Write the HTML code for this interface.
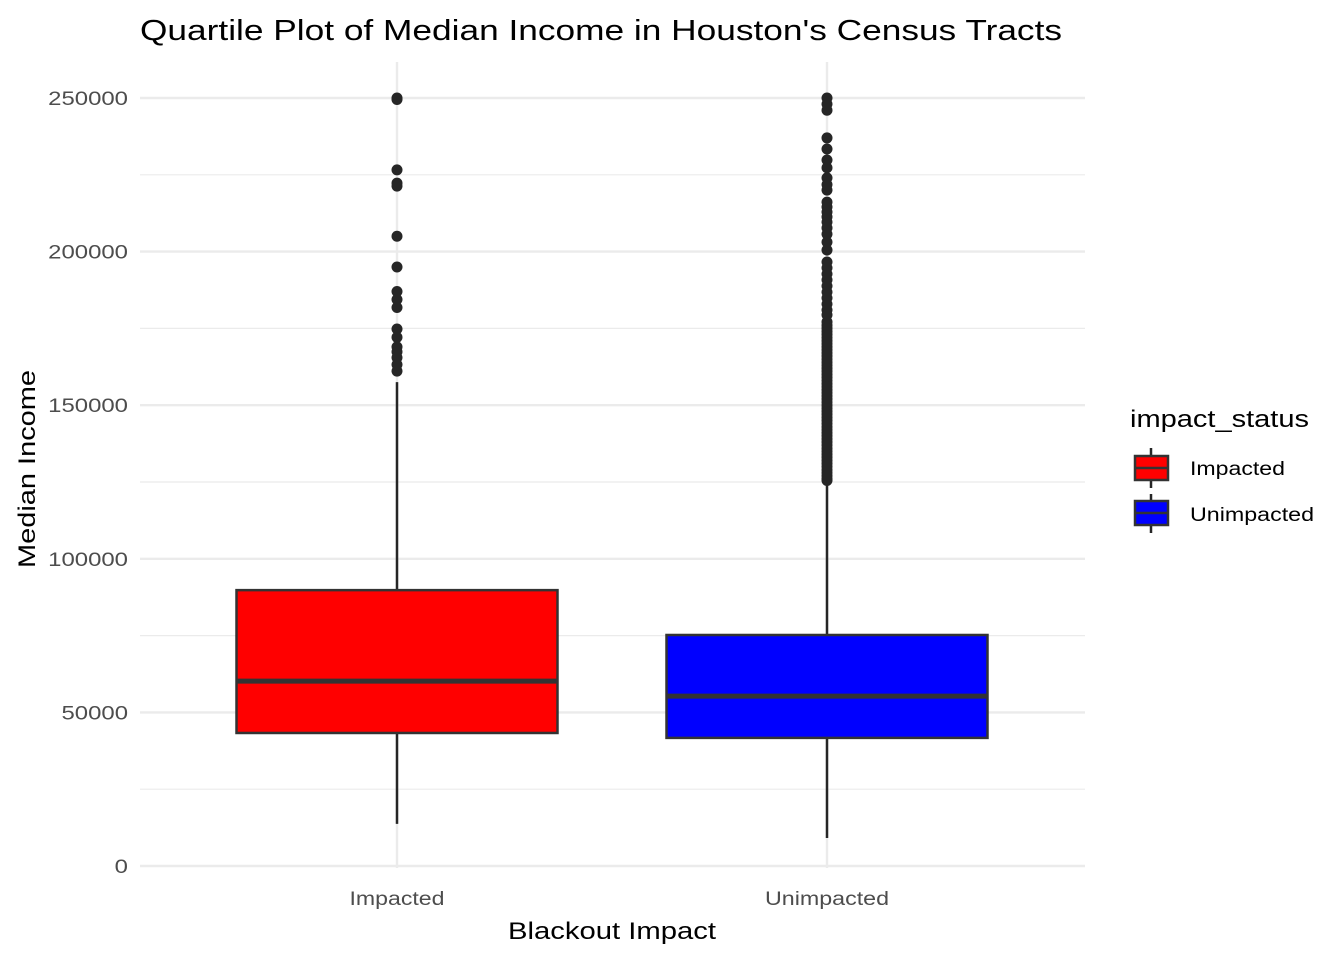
<!DOCTYPE html>
<html><head><meta charset="utf-8"><style>
body{margin:0;background:#fff;}
svg text{font-family:"Liberation Sans",Arial,sans-serif;}
</style></head><body>
<svg id="chart" width="1344" height="960" xmlns="http://www.w3.org/2000/svg">
<text x="140" y="40" font-size="29" textLength="922" lengthAdjust="spacingAndGlyphs" fill="#000">Quartile Plot of Median Income in Houston's Census Tracts</text>
<g id="grid"></g>
<g id="marks"></g>
<g id="axes"></g>
<text x="612" y="939" font-size="24" textLength="208" lengthAdjust="spacingAndGlyphs" text-anchor="middle" fill="#000">Blackout Impact</text>
<text transform="translate(35,469) rotate(-90)" font-size="24" textLength="198" lengthAdjust="spacingAndGlyphs" text-anchor="middle" fill="#000">Median Income</text>
<g>
<text x="1130" y="427" font-size="24" textLength="179" lengthAdjust="spacingAndGlyphs" fill="#000">impact_status</text>
<g>
<line x1="1151" y1="448" x2="1151" y2="488" stroke="#262626" stroke-width="2.5"/>
<rect x="1135" y="456" width="33" height="24" fill="#ff0000" stroke="#333" stroke-width="2.5"/>
<line x1="1135" y1="468" x2="1168" y2="468" stroke="#333" stroke-width="2.5"/>
<text x="1190" y="475" font-size="19" textLength="95" lengthAdjust="spacingAndGlyphs" fill="#000">Impacted</text></g>
<g>
<line x1="1151" y1="494" x2="1151" y2="533" stroke="#262626" stroke-width="2.5"/>
<rect x="1135" y="501" width="33" height="24" fill="#0000ff" stroke="#333" stroke-width="2.5"/>
<line x1="1135" y1="513" x2="1168" y2="513" stroke="#333" stroke-width="2.5"/>
<text x="1190" y="521" font-size="19" textLength="124" lengthAdjust="spacingAndGlyphs" fill="#000">Unimpacted</text></g>
</g>
</svg>
<script>
const categories=["Impacted","Unimpacted"];
const colors=["#ff0000","#0000ff"];
const q1=[43300,41700];
const medians=[60200,55300];
const q3=[89800,75200];
const whiskerLow=[13700,9100];
const whiskerHigh=[157500,125000];
const outliersImpacted=[250000,249500,226600,222300,221300,205000,195000,187000,184400,181800,174800,172100,169000,167400,165500,163200,161100];
const outliersUnimpacted=[250000,248000,246000,237000,233400,229800,227300,224000,221800,220000,216100,214500,212900,211300,209600,207700,205700,203100,200500,196600,194700,192700,190800,188800,186800,184900,182900,181000,179400,177100,176000,175000,174000,173000,172000,171000,170000,169000,168000,167000,166000,165000,164000,163000,162000,161000,160000,159000,158000,157000,156000,155000,154000,153000,152000,151000,150000,149000,148000,147000,146000,145000,144000,143000,142000,141000,140000,139000,138000,137000,136000,135000,134000,133000,132000,131000,130000,129000,128000,127000,126000,125500];
const outliers=[outliersImpacted,outliersUnimpacted];
const yTicks=[0,50000,100000,150000,200000,250000];
const yMinor=[25000,75000,125000,175000,225000];
const NS="http://www.w3.org/2000/svg";
const X0=140,X1=1085,Y0=866,PPU=768/250000;
const y=v=>Y0-v*PPU;
const xc=i=>397+i*430;
const BW=321;
function mk(tag,attrs,parent){const e=document.createElementNS(NS,tag);for(const k in attrs)e.setAttribute(k,attrs[k]);parent.appendChild(e);return e;}
const grid=document.getElementById('grid'),marks=document.getElementById('marks'),axes=document.getElementById('axes');
yMinor.forEach(v=>{const l=mk('line',{x1:X0,x2:X1,y1:y(v),y2:y(v),stroke:'#ebebeb','stroke-width':1.2},grid);

});
yTicks.forEach(v=>{const l=mk('line',{x1:X0,x2:X1,y1:y(v),y2:y(v),stroke:'#ebebeb','stroke-width':2.4},grid);


const s=String(v);
const t=mk('text',{x:128,y:y(v)+7,'font-size':19,'text-anchor':'end',fill:'#4d4d4d',textLength:s.length*13.3,lengthAdjust:'spacingAndGlyphs'},axes);t.textContent=s;

});
const xLabelW=[95,124];
categories.forEach((c,i)=>{const l=mk('line',{x1:xc(i),x2:xc(i),y1:62,y2:868,stroke:'#ebebeb','stroke-width':2.4},grid);


const t=mk('text',{x:xc(i),y:905,'font-size':19,'text-anchor':'middle',fill:'#4d4d4d',textLength:xLabelW[i],lengthAdjust:'spacingAndGlyphs'},axes);t.textContent=c;


const g=mk('g',{},marks);


mk('line',{x1:xc(i),x2:xc(i),y1:y(whiskerLow[i]),y2:y(q1[i]),stroke:'#262626','stroke-width':2.5},g);
mk('line',{x1:xc(i),x2:xc(i),y1:y(q3[i]),y2:y(whiskerHigh[i]),stroke:'#262626','stroke-width':2.5},g);
mk('rect',{x:xc(i)-BW/2,y:y(q3[i]),width:BW,height:y(q1[i])-y(q3[i]),fill:colors[i],stroke:'#333','stroke-width':2.5},g);
mk('line',{x1:xc(i)-BW/2,x2:xc(i)+BW/2,y1:y(medians[i]),y2:y(medians[i]),stroke:'#333','stroke-width':5},g);
outliers[i].forEach(v=>{const p=mk('circle',{cx:xc(i),cy:y(v),r:5.5,fill:'#262626'},g);

});
});
</script>
</body></html>
